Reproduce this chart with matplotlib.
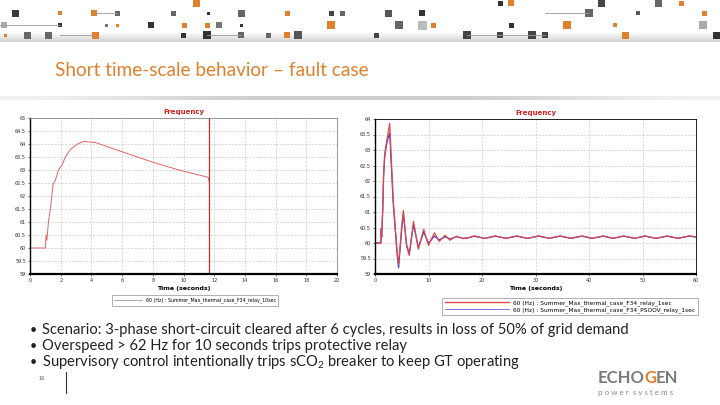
import matplotlib.pyplot as plt
import numpy as np
from matplotlib.patches import Rectangle
from matplotlib.lines import Line2D

# --- data ---
# left chart: frequency, relay trips after 10 s
t_left = [0, 1.0, 1.05, 1.1, 1.2, 1.35, 1.5, 1.65, 1.85, 2.1, 2.3, 2.65, 3.1, 3.5,
          4.3, 6.0, 8.0, 9.7, 11.6, 11.68]
f_left = [60, 60, 60.5, 60.3, 61.0, 61.6, 62.45, 62.6, 63.0, 63.2, 63.5, 63.8, 64.0, 64.1,
          64.05, 63.7, 63.3, 63.0, 62.72, 62.55]
trip_time = 11.68

# right chart: two cases
t_right = [0, 1.1, 1.15, 1.25, 1.45, 1.6, 1.8, 2.0, 2.3, 2.75, 3.4, 4.1, 4.4, 5.0, 5.3,
           5.9, 6.4, 7.2, 8.1, 9.1, 10.0, 11.1, 12.0, 13.1, 14.0, 15.2, 16.5, 17.5,
           18.5, 20.5, 22.5, 24.5, 26.5, 28.5, 30.6, 32.6, 34.6, 36.6, 38.7, 40.6,
           42.6, 44.5, 46.5, 48.5, 50.5, 52.5, 54.6, 56.6, 58.7, 60]
f_relay = [60, 60, 60.45, 60.2, 61.1, 62.2, 62.85, 63.1, 63.4, 63.86, 61.4, 59.8, 59.3,
           60.55, 61.05, 59.9, 59.6, 60.7, 59.8, 60.44, 59.92, 60.33, 60.05, 60.25,
           60.09, 60.22, 60.14, 60.17, 60.23, 60.15, 60.23, 60.15, 60.23, 60.15, 60.23,
           60.15, 60.23, 60.15, 60.23, 60.15, 60.23, 60.15, 60.23, 60.15, 60.23, 60.15,
           60.23, 60.15, 60.23, 60.2]
f_psoov = [60, 60, 60.45, 60.2, 61.1, 62.1, 62.75, 63.0, 63.3, 63.55, 61.3, 59.7, 59.2,
           60.45, 60.95, 59.95, 59.65, 60.6, 59.85, 60.35, 60.0, 60.22, 60.1, 60.2,
           60.13, 60.2, 60.15, 60.17, 60.22, 60.15, 60.22, 60.15, 60.22, 60.15, 60.22,
           60.15, 60.22, 60.15, 60.22, 60.15, 60.22, 60.15, 60.22, 60.15, 60.22, 60.15,
           60.22, 60.15, 60.22, 60.19]

left_label = "60 (Hz) : Summer_Max_thermal_case_F34_relay_10sec"
right_labels = ["60 (Hz) : Summer_Max_thermal_case_F34_relay_1sec",
                "60 (Hz) : Summer_Max_thermal_case_F34_PSOOV_relay_1sec"]

bullets = ["Scenario: 3-phase short-circuit cleared after 6 cycles, results in loss of 50% of grid demand",
           "Overspeed > 62 Hz for 10 seconds trips protective relay",
           "Supervisory control intentionally trips s$\\mathregular{CO_2}$ breaker to keep GT operating"]

orange = '#e0802c'

fig = plt.figure(figsize=(7.2, 4.05), dpi=100)
fig.patch.set_facecolor('white')

# --- top banner (decoration) ---
ban = fig.add_axes([0, 1 - 42 / 405, 1, 42 / 405])
ban.set_xlim(0, 720)
ban.set_ylim(42, 0)
ban.axis('off')
grad = np.linspace(1, 0.82, 50).reshape(-1, 1)
ban.imshow(grad, extent=[0, 720, 42, 32], cmap='gray', vmin=0, vmax=1, aspect='auto')
squares = [(15, 13, 7, '#3a3a3a'), (60, 13, 4, orange), (94, 13, 6, orange), (117, 13, 5, '#666'),
           (173, 13, 5, '#666'), (208, 13, 3, '#333'), (241, 13, 7, '#666'), (287, 13, 5, orange),
           (331, 13, 5, '#444'), (342, 13, 5, '#666'), (388, 13, 7, '#555'), (422, 13, 6, '#333'),
           (589, 13, 8, '#666'), (638, 13, 4, '#555'), (704, 13, 5, orange),
           (4, 25, 6, '#aaa'), (60, 25, 4, '#333'), (106, 25, 3, '#777'), (117, 25, 3, orange),
           (151, 25, 6, '#333'), (184, 25, 5, orange), (207, 25, 5, orange), (219, 25, 6, '#777'),
           (241, 25, 3, '#333'), (331, 25, 8, orange), (399, 25, 8, '#666'), (422, 25, 9, '#bbb'),
           (433, 25, 5, orange), (511, 25, 5, '#333'), (567, 25, 8, orange), (615, 25, 4, orange),
           (703, 25, 8, '#aaa'), (500, 3, 5, '#333'), (511, 3, 6, orange), (196, 3, 7, orange),
           (601, 3, 7, '#444'), (658, 3, 7, '#666'), (681, 3, 5, orange),
           (5, 35, 3, orange), (27, 35, 7, '#666'), (48, 35, 7, '#666'), (95, 35, 7, orange),
           (183, 35, 5, '#333'), (207, 35, 8, '#333'), (241, 35, 6, '#666'), (268, 35, 5, '#666'),
           (287, 35, 6, orange), (298, 35, 8, '#555'), (376, 35, 5, '#444'), (467, 35, 8, '#444'),
           (500, 35, 6, '#444'), (532, 35, 8, '#444'), (545, 35, 6, '#444'), (625, 35, 7, orange),
           (716, 35, 7, '#333')]
for x, y, s, c in squares:
    ban.add_patch(Rectangle((x - s / 2, y - s / 2), s, s, color=c, lw=0))
for y, x0, x1 in [(25, 0, 60), (35, 60, 95), (35, 467, 545), (13, 94, 117), (35, 207, 241), (13, 545, 589)]:
    ban.plot([x0, x1], [y, y], color='#999', lw=0.6)

# title and separator
fig.text(55 / 720, 1 - 70 / 405, "Short time-scale behavior \u2013 fault case", color=orange,
         fontsize=13.7, family='Lato', va='center', ha='left')
sep = fig.add_axes([0, 1 - 100 / 405, 1, 4 / 405])
sep.axis('off')
sep.imshow(np.array([[0.95, 0.8, 0.8, 0.8, 0.95]]), extent=[0, 1, 0, 1], cmap='gray',
           vmin=0, vmax=1, aspect='auto', interpolation='bicubic')


def style_axes(ax, xmax, xstep, ymin, ymax):
    ax.set_xlim(0, xmax)
    ax.set_ylim(ymin, ymax)
    ax.set_xticks(np.arange(0, xmax + 0.1, xstep))
    ax.set_yticks(np.arange(ymin, ymax + 0.01, 0.5))
    ax.yaxis.set_major_formatter(plt.FuncFormatter(lambda v, p: ('%g' % v)))
    ax.tick_params(labelsize=3.5, length=1.5, width=0.5, colors='#333', pad=1.5)
    ax.grid(True, color='#c8c8c8', lw=0.5, ls=(0, (3, 2)))
    for s in ['left', 'bottom']:
        ax.spines[s].set_color('black')
    ax.spines['left'].set_linewidth(1.0)
    ax.spines['bottom'].set_linewidth(1.6)
    for s in ['top', 'right']:
        ax.spines[s].set_color('#888')
        ax.spines[s].set_linewidth(0.6)
    ax.set_title("Frequency", color='#d42020', fontsize=5, fontweight='bold', pad=3)
    ax.set_xlabel("Time (seconds)", fontsize=4.5, fontweight='bold', labelpad=2)


# left chart
ax1 = fig.add_axes([30 / 720, 1 - 274 / 405, 307 / 720, 156 / 405])
style_axes(ax1, 20, 2, 59, 65)
ln1, = ax1.plot(t_left, f_left, color='#e06464', lw=0.7)
ax1.axvline(trip_time, color='#c82828', lw=0.9)
leg1 = fig.legend([Line2D([], [], color='#999', lw=0.6)], [left_label], loc='center',
                  bbox_to_anchor=(195 / 720, 1 - 300.5 / 405), fontsize=3.4, frameon=True,
                  fancybox=False, edgecolor='#777', handlelength=6, borderpad=0.5)
leg1.get_frame().set_linewidth(0.5)

# right chart
ax2 = fig.add_axes([375 / 720, 1 - 274 / 405, 321 / 720, 155 / 405])
style_axes(ax2, 60, 10, 59, 64)
ax2.plot(t_right, f_psoov, color='#3c3cd2', lw=0.9)
ax2.plot(t_right, f_relay, color='#e04848', lw=0.9)
leg2 = fig.legend([Line2D([], [], color='#e04848', lw=1.0), Line2D([], [], color='#3c3cd2', lw=0.5)],
                  right_labels, loc='center', bbox_to_anchor=(570 / 720, 1 - 306.5 / 405),
                  fontsize=4.2, frameon=True, fancybox=False, edgecolor='#777', handlelength=11,
                  borderpad=0.4, labelspacing=0.3)
leg2.get_frame().set_linewidth(0.5)
ax2.spines['right'].set_color('black')
ax2.spines['top'].set_color('black')

# bullets
for i, b in enumerate(bullets):
    y = 1 - (330 + i * 16) / 405
    fig.text(30 / 720, y, "\u2022", fontsize=9, family='Lato', va='center', color='#222')
    fig.text(42 / 720, y, b, fontsize=10.6, family='Lato', va='center', color='#222')

# page number and logo
fig.text(38 / 720, 1 - 379 / 405, "16", fontsize=3.5, color='#555', va='center')
fig.add_artist(Line2D([66 / 720, 66 / 720], [1 - 372 / 405, 1 - 393 / 405], color='#333', lw=0.8))
lx, ly = 598 / 720, 1 - 378 / 405
fig.canvas.draw()
r = fig.canvas.get_renderer()
x = lx
for part, col in [("ECHO", '#7a7a7a'), ("G", orange), ("EN", '#7a7a7a')]:
    t = fig.text(x, ly, part, fontsize=12, family='Lato', fontweight='bold', color=col, va='center')
    x += t.get_window_extent(r).width / 720 - 0.5 / 720
fig.text(lx, 1 - 392 / 405, "p o w e r  s y s t e m s", fontsize=5.8, family='Lato', color='#888', va='center')

fig.savefig('out.png', dpi=100)
